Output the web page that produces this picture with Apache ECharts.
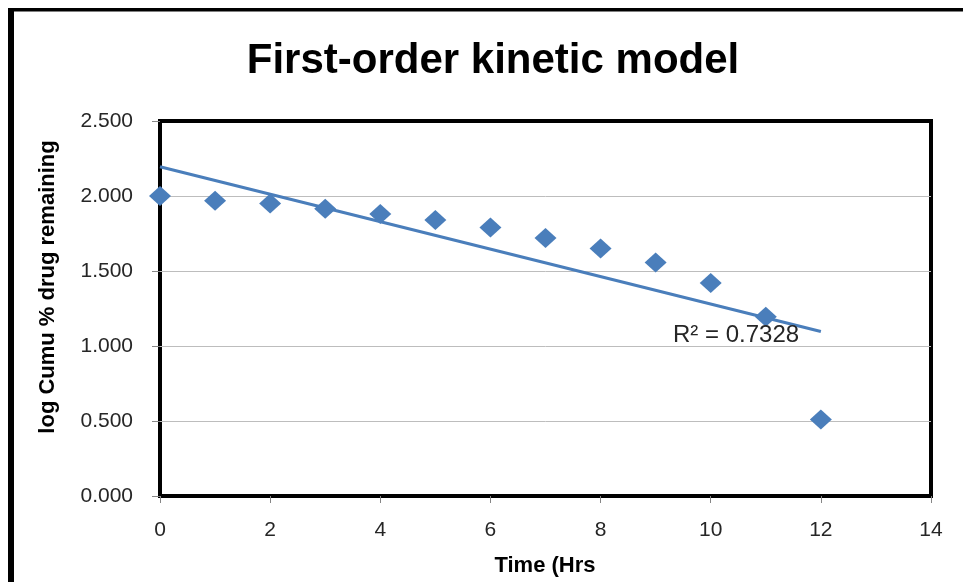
<!DOCTYPE html>
<html>
<head>
<meta charset="utf-8">
<script src="https://cdn.jsdelivr.net/npm/echarts@6/dist/echarts.min.js"></script>
<style>
  html, body { margin: 0; padding: 0; background: #fff; }
  #chart { width: 963px; height: 582px; }
</style>
</head>
<body>
<div id="chart"></div>
<script>
// Data
const timeHrs = [0, 1, 2, 3, 4, 5, 6, 7, 8, 9, 10, 11, 12];
const logRemaining = [2.000, 1.968, 1.950, 1.915, 1.880, 1.840, 1.790, 1.720, 1.650, 1.556, 1.420, 1.195, 0.510];
const trendX = [0, 12];
const trendY = [2.195, 1.097];
const rSquaredLabel = 'R² = 0.7328';
const titleText = 'First-order kinetic model';
const xAxisTitle = 'Time (Hrs';
const yAxisTitle = 'log Cumu % drug remaining';

const chart = echarts.init(document.getElementById('chart'), null, { renderer: 'canvas' });
const blue = '#4A7EBB';
const labelFont = 'Liberation Sans';

chart.setOption({
  animation: false,
  backgroundColor: '#ffffff',
  grid: {
    left: 160, right: 32, top: 121, bottom: 86,
    show: true, borderColor: '#000', borderWidth: 4, backgroundColor: 'transparent'
  },
  xAxis: {
    type: 'value', min: 0, max: 14, interval: 2,
    axisLine: { show: false },
    axisTick: { show: true, length: 7, lineStyle: { color: '#868686' } },
    splitLine: { show: false },
    axisLabel: { margin: 24, fontFamily: labelFont, fontSize: 21, color: '#262626' }
  },
  yAxis: {
    type: 'value', min: 0, max: 2.5, interval: 0.5,
    axisLine: { show: false },
    axisTick: { show: true, length: 8, lineStyle: { color: '#868686' } },
    splitLine: { show: true, showMinLine: false, showMaxLine: false, lineStyle: { color: '#BDBDBD', width: 1 } },
    axisLabel: { margin: 27, fontFamily: labelFont, fontSize: 21, color: '#262626',
      formatter: v => v.toFixed(3) }
  },
  series: [
    {
      type: 'line',
      data: trendX.map((x, i) => [x, trendY[i]]),
      symbol: 'none',
      lineStyle: { color: blue, width: 3 },
      z: 2
    },
    {
      type: 'scatter',
      data: timeHrs.map((x, i) => [x, logRemaining[i]]),
      symbol: 'diamond',
      symbolSize: [22, 20],
      itemStyle: { color: blue, opacity: 1 },
      z: 3
    }
  ],
  graphic: [
    { type: 'rect', shape: { x: 8, y: 8, width: 6, height: 574 }, style: { fill: '#000' } },
    { type: 'rect', shape: { x: 8, y: 8, width: 955, height: 3.5 }, style: { fill: '#000' } },
    { type: 'text', x: 493, y: 61, style: { text: titleText, font: 'bold 42px "Liberation Sans"',
      fill: '#000', textAlign: 'center', textVerticalAlign: 'middle' } },
    { type: 'text', x: 545, y: 566, style: { text: xAxisTitle, font: 'bold 22px "Liberation Sans"',
      fill: '#000', textAlign: 'center', textVerticalAlign: 'middle' } },
    { type: 'text', x: 48, y: 287, rotation: Math.PI / 2, style: { text: yAxisTitle, font: 'bold 22px "Liberation Sans"',
      fill: '#000', textAlign: 'center', textVerticalAlign: 'middle' } },
    { type: 'text', x: 673, y: 335, z: 10, style: { text: rSquaredLabel, font: '24px "Liberation Sans"',
      fill: '#262626', textAlign: 'left', textVerticalAlign: 'middle' } }
  ]
});
</script>
</body>
</html>
